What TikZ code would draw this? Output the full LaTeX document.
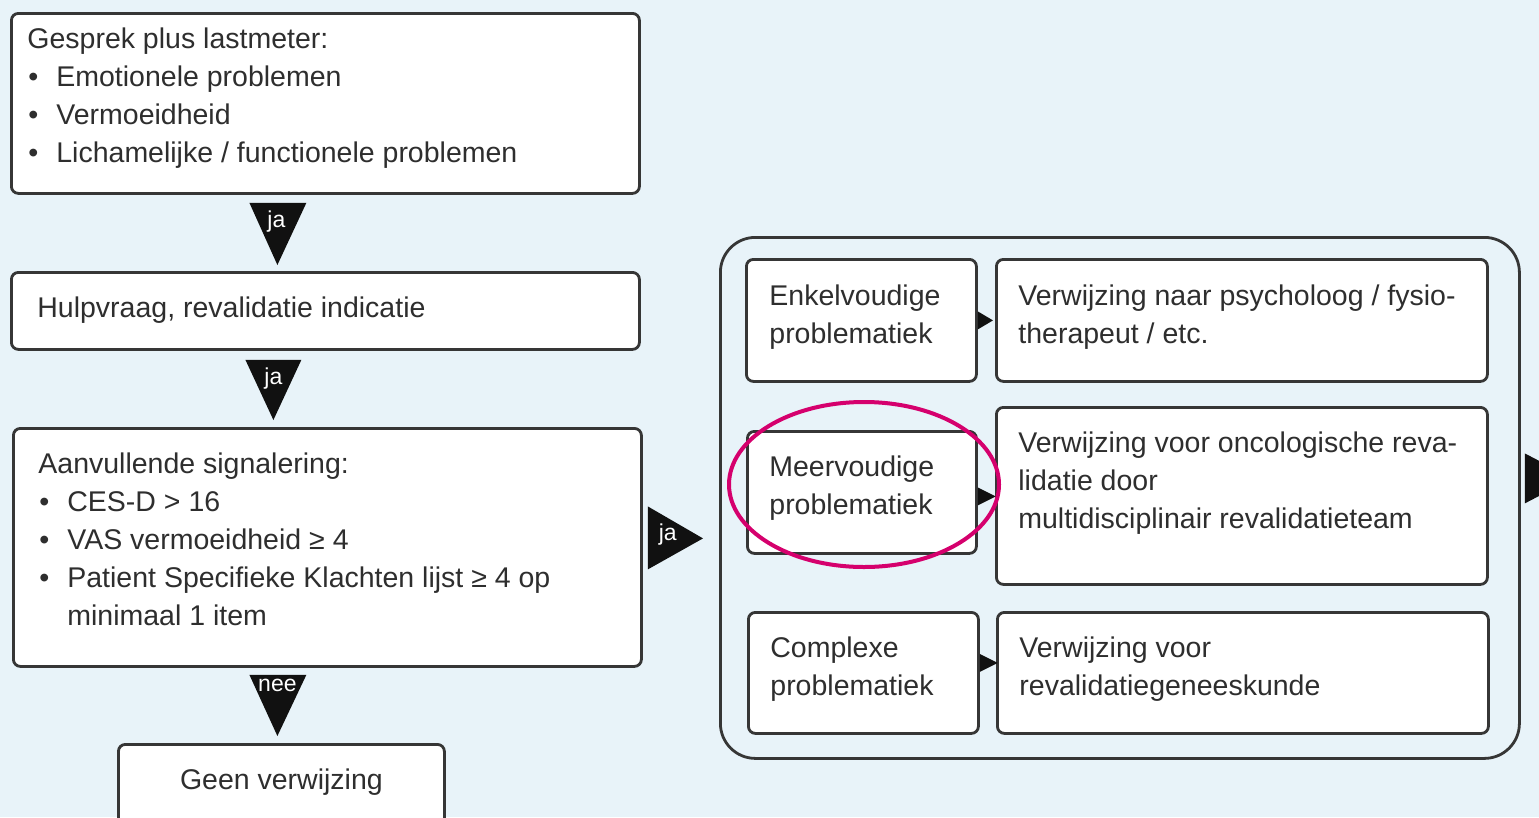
\documentclass[tikz,border=0pt]{standalone}
\usepackage{fontspec}
\setmainfont{Liberation Sans}
\usetikzlibrary{calc,shapes.geometric}
\definecolor{bg}{HTML}{E8F3F9}
\definecolor{edge}{HTML}{363636}
\definecolor{ink}{HTML}{2E2E2E}
\definecolor{ring}{HTML}{D5006D}
\definecolor{tri}{HTML}{111111}

% body of a box: padx, pady, width, height, lines
\newcommand\boxbody[5]{\parbox[c][#4][t]{#3}{\raggedright\leftskip=#1\relax
  \vspace*{#2}\rule{0pt}{21pt}#5}}
% one bullet line, with its text indented
\newcommand\bitem[1]{\makebox[29pt][l]{\hspace{1pt}•}#1}

\tikzset{
  flowbox/.style={draw=edge, line width=2.8pt, fill=white, rounded corners=7pt,
    inner sep=0pt, anchor=north west, text=ink,
    font=\fontsize{28.5}{38}\selectfont},
  group/.style={draw=edge, line width=2.8pt, rounded corners=35pt, inner sep=0pt,
    anchor=north west},
  arrowtri/.style={fill=tri},
  trilabel/.style={text=white, inner sep=0pt, font=\fontsize{23}{23}\selectfont},
}

\begin{document}
\begin{tikzpicture}[x=1pt, y=-1pt]
  \useasboundingbox (0,0) rectangle (1539,817);
  \fill[bg] (0,0) rectangle (1539,817);
  \clip (0,0) rectangle (1539,817);

  % left column
  \node[flowbox] (b1) at (10,12) {\boxbody{16pt}{14.5pt}{628pt}{180pt}{%
    Gesprek plus lastmeter:\\
    \bitem{Emotionele problemen}\\
    \bitem{Vermoeidheid}\\
    \bitem{Lichamelijke / functionele problemen}}};
  \node[flowbox] (b2) at (10,271) {\boxbody{26pt}{24.5pt}{628pt}{77pt}{%
    Hulpvraag, revalidatie indicatie}};
  \node[flowbox] (b3) at (12,427) {\boxbody{25pt}{24.5pt}{628pt}{238pt}{%
    Aanvullende signalering:\\
    \bitem{CES-D > 16}\\
    \bitem{VAS vermoeidheid ≥ 4}\\
    \bitem{Patient Specifieke Klachten lijst ≥ 4 op}\\
    \hspace*{29pt}minimaal 1 item}};
  \node[flowbox] (b4) at (117,743) {\parbox[c][100pt][t]{326pt}{\centering
    \vspace*{24.5pt}\rule{0pt}{21pt}Geen verwijzing}};

  % right group
  \node[group, minimum width=799pt, minimum height=521pt] (grp) at (719,236) {};
  \node[flowbox] (e1) at (745,258) {\boxbody{23pt}{25pt}{230pt}{122pt}{%
    Enkelvoudige\\ problematiek}};
  \node[flowbox] (e2) at (995,258) {\boxbody{22pt}{25pt}{491pt}{122pt}{%
    Verwijzing naar psycholoog / fysio-\\ therapeut / etc.}};
  \node[flowbox] (m1) at (746,430) {\boxbody{22pt}{24.5pt}{229pt}{122pt}{%
    Meervoudige\\ problematiek}};
  \node[flowbox] (m2) at (995,406) {\boxbody{22pt}{24.5pt}{491pt}{177pt}{%
    Verwijzing voor oncologische reva-\\ lidatie door\\
    multidisciplinair revalidatieteam}};
  \node[flowbox] (c1) at (747,611) {\boxbody{22pt}{24.5pt}{230pt}{121pt}{%
    Complexe\\ problematiek}};
  \node[flowbox] (c2) at (996,611) {\boxbody{22pt}{24.5pt}{491pt}{121pt}{%
    Verwijzing voor\\ revalidatiegeneeskunde}};

  % triangular connectors in the left column
  \fill[arrowtri] ($(b1.south)+(-76,8)$) -- ($(b1.south)+(-19,8)$)
    -- ($(b2.north)+(-48,-6)$) -- cycle;
  \node[trilabel] (l1) at ($(b1.south)+(-49,27)$) {ja};
  \fill[arrowtri] ($(b2.south)+(-80,9)$) -- ($(b2.south)+(-24,9)$)
    -- ($(b3.north)+(-54,-7)$) -- cycle;
  \node[trilabel] (l2) at ($(b2.south)+(-52,28)$) {ja};
  \fill[arrowtri] ($(b3.south)+(-78,7)$) -- ($(b3.south)+(-21,7)$)
    -- ($(b4.north)+(-4,-7)$) -- cycle;
  \node[trilabel] (l3) at ($(b3.south)+(-50,18)$) {nee};

  % from the signalling box into the group
  \fill[arrowtri] ($(b3.east)+(5,-41)$) -- ($(b3.east)+(5,22)$)
    -- ($(grp.west)+(-16,40.5)$) -- cycle;
  \node[trilabel] (l4) at ($(b3.east)+(25,-13)$) {ja};

  % small connectors inside the group
  \fill[arrowtri] ($(e1.east)+(0,-9)$) -- ($(e1.east)+(0,9)$)
    -- ($(e2.west)+(-2,0)$) -- cycle;
  \fill[arrowtri] ($(m1.east)+(0,-5)$) -- ($(m1.east)+(0,13)$)
    -- ($(m1.east)+(18,4)$) -- cycle;
  \fill[arrowtri] ($(c1.east)+(0,-19)$) -- ($(c1.east)+(0,-1)$)
    -- ($(c1.east)+(18,-10)$) -- cycle;

  % outgoing connector at the right edge
  \coordinate (out) at ($(grp.east)+(52,-19.5)$);
  \fill[arrowtri] ($(grp.east)+(4,-44.5)$) -- ($(grp.east)+(4,5.5)$) -- (out) -- cycle;

  % highlight ring
  \node[ellipse, draw=ring, line width=4pt, minimum width=270pt,
    minimum height=165pt, inner sep=0pt] (hl) at (864,484.5) {};
\end{tikzpicture}
\end{document}
